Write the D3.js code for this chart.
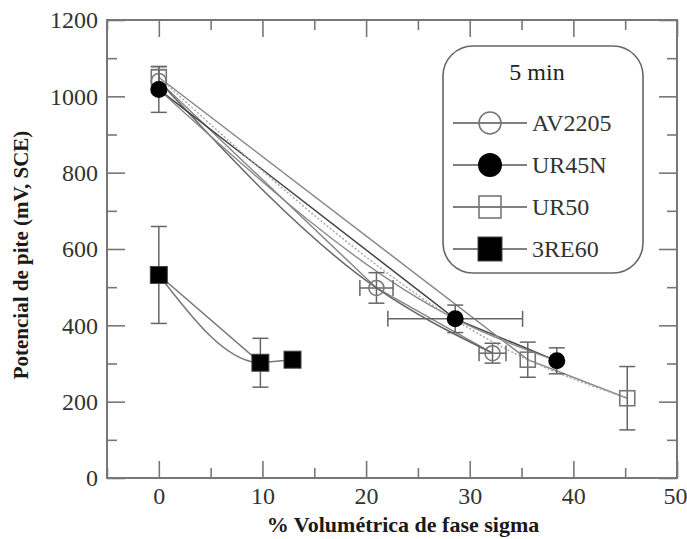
<!DOCTYPE html>
<html><head><meta charset="utf-8">
<script src="https://cdn.jsdelivr.net/npm/d3@7"></script>
<style>body{margin:0;background:#fff}svg{display:block}
text{font-family:"Liberation Serif","Times New Roman","DejaVu Serif",serif}</style>
</head><body>
<svg id="c" width="687" height="539"></svg>
<script>
// ---- data ----
const seriesNames = ["AV2205", "UR45N", "UR50", "3RE60"];
const seriesSymbols = ["openCircle", "filledCircle", "openSquare", "filledSquare"];
// x = % volumétrica de fase sigma, y = potencial (mV, SCE)
const av2205X = [0, 21.0, 32.2];
const av2205Y = [1040, 498, 327];
const av2205XErr = [0, 1.6, 1.3];
const av2205YErr = [30, 40, 26];

const ur45nX = [0, 28.6, 38.4];
const ur45nY = [1018, 417, 307];
const ur45nXErr = [0, 6.5, 0];
const ur45nYErr = [60, 36, 34];

const ur50X = [0, 35.6, 45.2];
const ur50Y = [1050, 310, 209];
const ur50XErr = [0, 0, 0];
const ur50YErr = [28, 46, 83];

const re60X = [0, 9.8, 12.9];
const re60Y = [532, 302, 310];
const re60XErr = [0, 0, 0];
const re60YErr = [127, 64, 18];

const xTicks = [0, 10, 20, 30, 40, 50];
const yTicks = [0, 200, 400, 600, 800, 1000, 1200];
const legendTitle = "5 min";
const xTitle = "% Volumétrica de fase sigma";
const yTitle = "Potencial de pite (mV, SCE)";

// ---- layout ----
const svg = d3.select("#c");
const L = 107, R = 677, T = 20, B = 478;
const x = d3.scaleLinear().domain([-5, 50]).range([L, R]);
const y = d3.scaleLinear().domain([0, 1200]).range([B, T]);
const serif = '"Liberation Serif","Times New Roman","DejaVu Serif",serif';
const axisCol = "#777";

const series = [
  {name: seriesNames[0], sym: seriesSymbols[0], xs: av2205X, ys: av2205Y, xe: av2205XErr, ye: av2205YErr},
  {name: seriesNames[1], sym: seriesSymbols[1], xs: ur45nX, ys: ur45nY, xe: ur45nXErr, ye: ur45nYErr},
  {name: seriesNames[2], sym: seriesSymbols[2], xs: ur50X, ys: ur50Y, xe: ur50XErr, ye: ur50YErr},
  {name: seriesNames[3], sym: seriesSymbols[3], xs: re60X, ys: re60Y, xe: re60XErr, ye: re60YErr}
].map(s => ({...s, pts: s.xs.map((v, i) => ({x: v, y: s.ys[i], xe: s.xe[i], ye: s.ye[i]}))}));

// ---- axes (ticks inward on all four sides) ----
const gAx = svg.append("g");
function tickAxis(axisGen, tx, ty) {
  const g = gAx.append("g").attr("transform", `translate(${tx},${ty})`).call(axisGen);
  g.select(".domain").remove();
  g.selectAll("line").attr("stroke", axisCol).attr("stroke-width", 1.6);
  return g;
}
const xMinor = d3.range(-5, 50.1, 5).filter(v => v % 10 !== 0);
const yMinor = d3.range(100, 1200, 200);
tickAxis(d3.axisTop(x).tickValues(xTicks).tickSize(17).tickFormat(""), 0, B);
tickAxis(d3.axisTop(x).tickValues(xMinor).tickSize(10).tickFormat(""), 0, B);
tickAxis(d3.axisBottom(x).tickValues(xTicks).tickSize(17).tickFormat(""), 0, T);
tickAxis(d3.axisBottom(x).tickValues(xMinor).tickSize(10).tickFormat(""), 0, T);
tickAxis(d3.axisRight(y).tickValues(yTicks).tickSize(18).tickFormat(""), L, 0);
tickAxis(d3.axisRight(y).tickValues(yMinor).tickSize(10).tickFormat(""), L, 0);
tickAxis(d3.axisLeft(y).tickValues(yTicks).tickSize(18).tickFormat(""), R, 0);
tickAxis(d3.axisLeft(y).tickValues(yMinor).tickSize(10).tickFormat(""), R, 0);

const xl = gAx.append("g").attr("transform", `translate(0,${B})`)
  .call(d3.axisBottom(x).tickValues(xTicks).tickSize(0).tickPadding(9).tickFormat(d3.format("d")));
xl.select(".domain").remove();
xl.selectAll("text").style("font-family", serif).attr("font-size", 24).attr("fill", "#333")
  .attr("dx", d => d === xTicks[xTicks.length - 1] ? -2 : 0);
const yl = gAx.append("g").attr("transform", `translate(${L},0)`)
  .call(d3.axisLeft(y).tickValues(yTicks).tickSize(0).tickPadding(9).tickFormat(d3.format("d")));
yl.select(".domain").remove();
yl.selectAll("text").style("font-family", serif).attr("font-size", 24).attr("fill", "#333");

svg.append("rect").attr("x", L).attr("y", T).attr("width", R - L).attr("height", B - T)
  .attr("fill", "none").attr("stroke", axisCol).attr("stroke-width", 2);

svg.append("text").attr("x", 403).attr("y", 532).attr("text-anchor", "middle")
  .style("font-family", serif).attr("font-weight", "bold").attr("font-size", 22).attr("fill", "#1a1a1a").text(xTitle);
svg.append("text").attr("transform", `translate(28,255) rotate(-90)`).attr("text-anchor", "middle")
  .style("font-family", serif).attr("font-weight", "bold").attr("font-size", 21).attr("fill", "#1a1a1a").text(yTitle);

// ---- lines: straight connection + smooth (monotone) fit per series ----
const gL = svg.append("g").attr("fill", "none");
const lin = d3.line().x(d => x(d.x)).y(d => y(d.y)).curve(d3.curveLinear);
const mono = d3.line().x(d => x(d.x)).y(d => y(d.y)).curve(d3.curveMonotoneX);
const lineStyles = [
  {lin: {c: "#888", w: 1.5, dash: null}, fit: {c: "#666", w: 1.5, dash: null}},
  {lin: {c: "#444", w: 1.5, dash: null}, fit: {c: "#888", w: 1.4, dash: null}},
  {lin: {c: "#888", w: 1.5, dash: null}, fit: {c: "#aaa", w: 1.5, dash: "2,2"}},
  {lin: {c: "#777", w: 1.5, dash: null}, fit: {c: "#777", w: 1.5, dash: null}}
];
series.forEach((s, i) => {
  const st = lineStyles[i];
  gL.append("path").attr("d", lin(s.pts)).attr("stroke", st.lin.c).attr("stroke-width", st.lin.w);
  let d;
  if (i === 3) {
    svg.append("clipPath").attr("id", "clip3").append("rect")
      .attr("x", x(s.pts[0].x) - 2).attr("y", T).attr("width", x(s.pts[1].x) - x(s.pts[0].x) + 2).attr("height", B - T);
    d = mono(s.pts);
  } else d = mono(s.pts);
  const p = gL.append("path").attr("d", d).attr("stroke", st.fit.c).attr("stroke-width", st.fit.w)
    .attr("stroke-dasharray", st.fit.dash);
  if (i === 3) p.attr("clip-path", "url(#clip3)");
});

// ---- error bars ----
const gE = svg.append("g").attr("stroke", "#666").attr("stroke-width", 1.5);
const cap = 8;
series.forEach(s => s.pts.forEach(p => {
  if (p.ye) {
    gE.append("line").attr("x1", x(p.x)).attr("x2", x(p.x)).attr("y1", y(p.y - p.ye)).attr("y2", y(p.y + p.ye));
    [p.y - p.ye, p.y + p.ye].forEach(v => gE.append("line").attr("x1", x(p.x) - cap).attr("x2", x(p.x) + cap)
      .attr("y1", y(v)).attr("y2", y(v)));
  }
  if (p.xe) {
    gE.append("line").attr("y1", y(p.y)).attr("y2", y(p.y)).attr("x1", x(p.x - p.xe)).attr("x2", x(p.x + p.xe));
    [p.x - p.xe, p.x + p.xe].forEach(v => gE.append("line").attr("y1", y(p.y) - cap).attr("y2", y(p.y) + cap)
      .attr("x1", x(v)).attr("x2", x(v)));
  }
}));

// ---- markers ----
function marker(g, sym, cx, cy, size) {
  const r = size / 2;
  if (sym === "openCircle") g.append("circle").attr("cx", cx).attr("cy", cy).attr("r", r - 1).attr("fill", "none").attr("stroke", "#777").attr("stroke-width", 1.6);
  if (sym === "filledCircle") g.append("circle").attr("cx", cx).attr("cy", cy).attr("r", r).attr("fill", "#000");
  if (sym === "openSquare") g.append("rect").attr("x", cx - r + 1).attr("y", cy - r + 1).attr("width", size - 2).attr("height", size - 2).attr("fill", "none").attr("stroke", "#777").attr("stroke-width", 1.6);
  if (sym === "filledSquare") g.append("rect").attr("x", cx - r).attr("y", cy - r).attr("width", size).attr("height", size).attr("fill", "#000").attr("stroke", "#444").attr("stroke-width", 1);
}
const gM = svg.append("g");
[2, 0, 1, 3].forEach(i => {
  const s = series[i];
  s.pts.forEach(p => marker(gM, s.sym, x(p.x), y(p.y), 17));
});

// ---- legend ----
const lg = svg.append("g");
lg.append("rect").attr("x", 443).attr("y", 46).attr("width", 200).attr("height", 227).attr("rx", 30).attr("ry", 30)
  .attr("fill", "#fff").attr("stroke", "#666").attr("stroke-width", 1.6);
lg.append("text").attr("x", 537).attr("y", 80).attr("text-anchor", "middle").style("font-family", serif)
  .attr("font-size", 24).attr("fill", "#222").text(legendTitle);
const ly = d3.scalePoint().domain(seriesNames).range([123, 249]);
series.forEach(s => {
  const yy = ly(s.name);
  lg.append("line").attr("x1", 453).attr("x2", 527).attr("y1", yy).attr("y2", yy).attr("stroke", "#555").attr("stroke-width", 1.4);
  marker(lg, s.sym, 490, yy, 24);
  lg.append("text").attr("x", 532).attr("y", yy + 8).style("font-family", serif).attr("font-size", 24).attr("fill", "#333").text(s.name);
});
</script>
</body></html>
